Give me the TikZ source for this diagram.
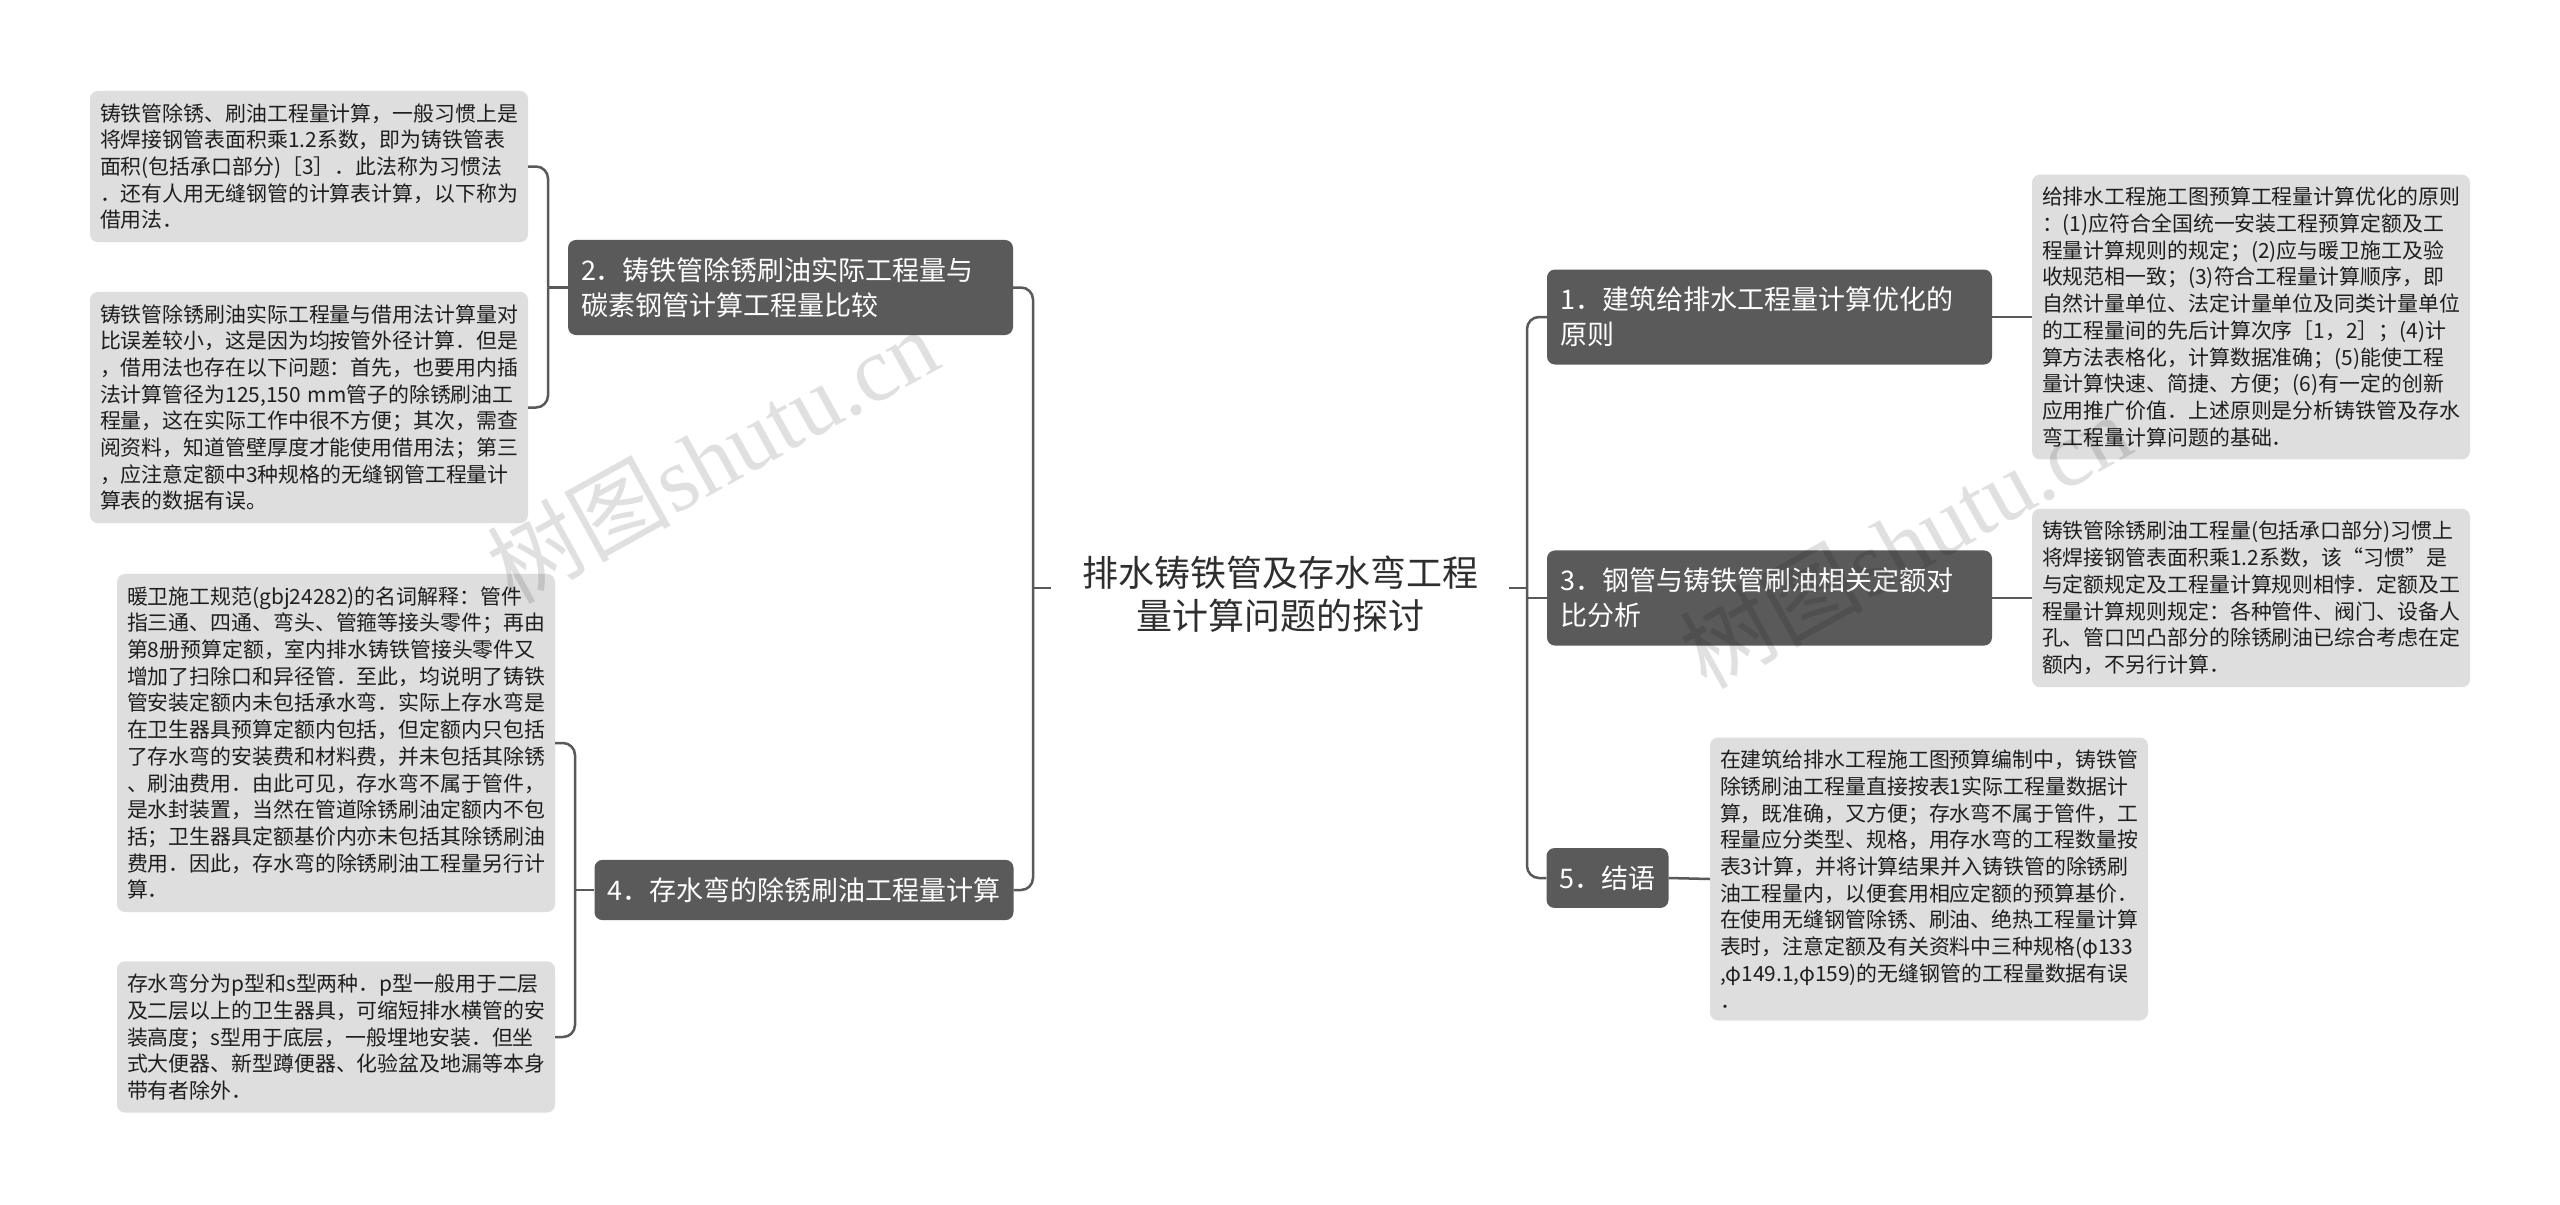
\documentclass[tikz,border=0pt]{standalone}
\usepackage{fontspec}
\setmainfont{Noto Sans CJK SC}
\newfontfamily\wmserif{Liberation Serif}
\definecolor{leafgray}{HTML}{DEDEDE}
\definecolor{branchgray}{HTML}{5A5A5A}
\definecolor{linegray}{HTML}{595959}
\definecolor{leaftext}{HTML}{1E1E1E}
\definecolor{centertext}{HTML}{2E2E2E}
\tikzset{
  leaf/.style={fill=leafgray, rounded corners=8pt, inner xsep=10pt, inner ysep=12.5pt,
    text width=418pt, align=left, text=leaftext, font=\fontsize{20.9}{26.7}\selectfont},
  branch/.style={fill=branchgray, rounded corners=8pt, inner xsep=13pt, inner ysep=17.5pt,
    align=left, text=white, font=\fontsize{27}{35}\selectfont},
  twoline/.style={text width=419pt},
  centernode/.style={inner xsep=31pt, inner ysep=8pt, align=center, text=centertext,
    font=\fontsize{36}{43}\selectfont},
  conn/.style={draw=linegray, line width=2.5pt},
  elbow/.style={conn, rounded corners=12pt},
  wm/.style={text=black, opacity=0.12, font=\fontsize{92}{92}\selectfont, inner sep=0pt}
}
\begin{document}
\begin{tikzpicture}[x=1pt,y=-1pt]
\useasboundingbox (0,0) rectangle (2560,1205);
\fill[white] (0,0) rectangle (2560,1205);

% center
\node[centernode] (C) at (1280,594) {排水铸铁管及存水弯工程\\量计算问题的探讨};

% branches
\node[branch,twoline] (B2) at (790.5,287.5) {2．铸铁管除锈刷油实际工程量与\\碳素钢管计算工程量比较};
\node[branch] (B4) at (804,890) {4．存水弯的除锈刷油工程量计算};
\node[branch,twoline] (B1) at (1769.5,317) {1．建筑给排水工程量计算优化的\\原则};
\node[branch,twoline] (B3) at (1769.5,598) {3．钢管与铸铁管刷油相关定额对\\比分析};
\node[branch] (B5) at (1607.5,878) {5．结语};

% leaves
\node[leaf] (L1) at (309,166.5) {铸铁管除锈、刷油工程量计算，一般习惯上是\\将焊接钢管表面积乘1.2系数，即为铸铁管表\\面积(包括承口部分)［3］．此法称为习惯法\\．还有人用无缝钢管的计算表计算，以下称为\\借用法．};
\node[leaf] (L2) at (309,407.5) {铸铁管除锈刷油实际工程量与借用法计算量对\\比误差较小，这是因为均按管外径计算．但是\\，借用法也存在以下问题：首先，也要用内插\\法计算管径为125,150~mm管子的除锈刷油工\\程量，这在实际工作中很不方便；其次，需查\\阅资料，知道管壁厚度才能使用借用法；第三\\，应注意定额中3种规格的无缝钢管工程量计\\算表的数据有误。};
\node[leaf] (L3) at (336,743) {暖卫施工规范(gbj24282)的名词解释：管件\\指三通、四通、弯头、管箍等接头零件；再由\\第8册预算定额，室内排水铸铁管接头零件又\\增加了扫除口和异径管．至此，均说明了铸铁\\管安装定额内未包括承水弯．实际上存水弯是\\在卫生器具预算定额内包括，但定额内只包括\\了存水弯的安装费和材料费，并未包括其除锈\\、刷油费用．由此可见，存水弯不属于管件，\\是水封装置，当然在管道除锈刷油定额内不包\\括；卫生器具定额基价内亦未包括其除锈刷油\\费用．因此，存水弯的除锈刷油工程量另行计\\算．};
\node[leaf] (L4) at (336,1037) {存水弯分为p型和s型两种．p型一般用于二层\\及二层以上的卫生器具，可缩短排水横管的安\\装高度；s型用于底层，一般埋地安装．但坐\\式大便器、新型蹲便器、化验盆及地漏等本身\\带有者除外．};
\node[leaf] (R1) at (2251,317) {给排水工程施工图预算工程量计算优化的原则\\：(1)应符合全国统一安装工程预算定额及工\\程量计算规则的规定；(2)应与暖卫施工及验\\收规范相一致；(3)符合工程量计算顺序，即\\自然计量单位、法定计量单位及同类计量单位\\的工程量间的先后计算次序［1，2］；(4)计\\算方法表格化，计算数据准确；(5)能使工程\\量计算快速、简捷、方便；(6)有一定的创新\\应用推广价值．上述原则是分析铸铁管及存水\\弯工程量计算问题的基础．};
\node[leaf] (R2) at (2251,598) {铸铁管除锈刷油工程量(包括承口部分)习惯上\\将焊接钢管表面积乘1.2系数，该“习惯”是\\与定额规定及工程量计算规则相悖．定额及工\\程量计算规则规定：各种管件、阀门、设备人\\孔、管口凹凸部分的除锈刷油已综合考虑在定\\额内，不另行计算．};
\node[leaf] (R3) at (1929,879) {在建筑给排水工程施工图预算编制中，铸铁管\\除锈刷油工程量直接按表1实际工程量数据计\\算，既准确，又方便；存水弯不属于管件，工\\程量应分类型、规格，用存水弯的工程数量按\\表3计算，并将计算结果并入铸铁管的除锈刷\\油工程量内，以便套用相应定额的预算基价．\\在使用无缝钢管除锈、刷油、绝热工程量计算\\表时，注意定额及有关资料中三种规格(φ133\\,φ149.1,φ159)的无缝钢管的工程量数据有误\\．};

% junction points
\coordinate (tl) at (1033,588);
\coordinate (tr) at (1527,588);
\coordinate (bl2) at (548,287.5);
\coordinate (bl4) at (575,890);

% connectors
\draw[conn] ([yshift=6pt]C.west) -- (tl);
\draw[elbow] (B2.east) -| (tl);
\draw[elbow] (B4.east) -| (tl);
\draw[conn] ([yshift=6pt]C.east) -- (tr);
\draw[elbow] (B1.west) -| (tr);
\draw[elbow] (B5.west) -| (tr);
\draw[conn] (B3.west) -- (B3.west -| tr);
\draw[conn] (B2.west) -- (bl2);
\draw[elbow] (L1.east) -| (bl2);
\draw[elbow] (L2.east) -| (bl2);
\draw[conn] (B4.west) -- (bl4);
\draw[elbow] (L3.east) -| (bl4);
\draw[elbow] (L4.east) -| (bl4);
\draw[conn] (B1.east) -- (R1.west);
\draw[conn] (B3.east) -- (R2.west);
\draw[conn] (B5.east) -- (R3.west);

% watermarks
\node[wm, rotate=29] (W1) at (712,455) {树图{\wmserif shutu.cn}};
\node[wm, rotate=29] (W2) at (1905,540) {树图{\wmserif shutu.cn}};
\end{tikzpicture}
\end{document}
